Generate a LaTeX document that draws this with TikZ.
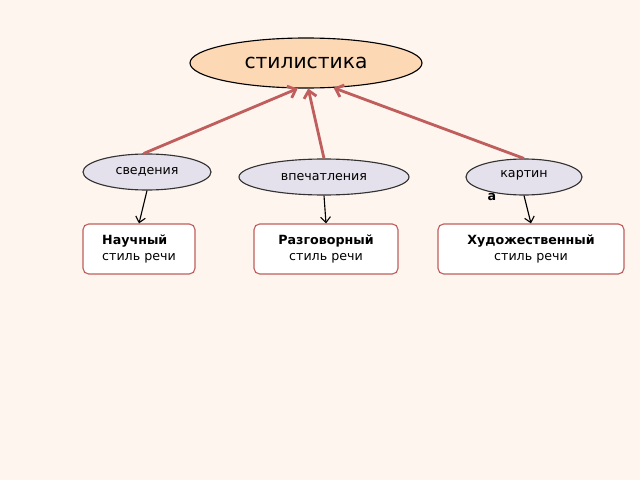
\documentclass[tikz,border=0pt]{standalone}
\usepackage{fontspec}
\setmainfont{DejaVu Sans}
\usetikzlibrary{shapes.geometric,arrows.meta}
\definecolor{bg}{HTML}{FEF5EE}
\definecolor{topfill}{HTML}{FDD8B5}
\definecolor{midfill}{HTML}{E5E1EC}
\definecolor{redline}{HTML}{BF5E5C}
\begin{document}
\begin{tikzpicture}
            [x=0.025cm,y=-0.025cm,thick,
             top/.style={ellipse,draw=black,fill=topfill,minimum width=232*0.025cm,minimum height=50*0.025cm,font=\Large},
             mid/.style={ellipse,draw=black!80,fill=midfill,minimum height=36*0.025cm,font=\small},
             box/.style={rectangle,rounded corners=4pt,draw=redline,fill=white,minimum height=50*0.025cm,font=\small,align=left},
             up/.style={redline,line width=2pt,-{Straight Barb[length=5pt,width=9pt]}},
             down/.style={black,-{Straight Barb[length=4pt,width=7pt]}}]
            \fill[bg] (0,0) rectangle (640,480);
            \node[top] (stil) at (306,63) {стилистика};
            \node[mid,minimum width=128*0.025cm] (sved) at (147,172) {сведения};
            \node[mid,minimum width=170*0.025cm] (vpech) at (324,177) {впечатления};
            \node[mid,minimum width=116*0.025cm] (kart) at (524,177) {};
            \node[font=\small] (kartA) at (524,175) {картин};
            \node[font=\small\bfseries] (kartB) at (492,197) {а};
            \node[box,minimum width=112*0.025cm] (nauch) at (139,249) {\textbf{Научный}\\стиль речи};
            \node[box,minimum width=144*0.025cm,align=center] (razg) at (326,249) {\textbf{Разговорный}\\стиль речи};
            \node[box,minimum width=186*0.025cm,align=center] (hud) at (531,249) {\textbf{Художественный}\\стиль речи};
            % to the top
            \draw[up] (sved.100) -- (stil.252);
            \draw[up] (vpech.north) -- (stil.275);
            \draw[up] (kart.north) -- (stil.318);
            % to the boxes
            \draw[down] (sved.south) -- (nauch.north);
            \draw[down] (vpech.south) -- (razg.north);
            \draw[down] (kart.south) -- (hud.north);
        \end{tikzpicture}
\end{document}
